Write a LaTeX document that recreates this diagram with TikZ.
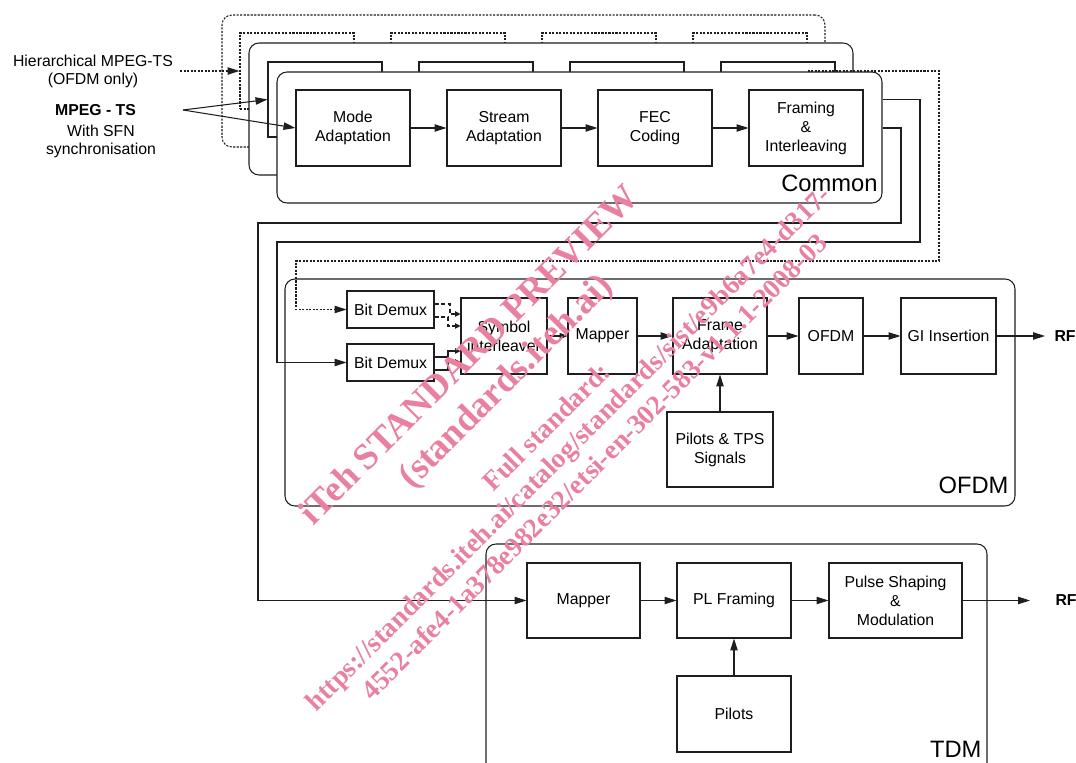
\documentclass[tikz,border=0pt]{standalone}
\usepackage{fontspec}
\setmainfont{Liberation Sans}
\newfontfamily\wmfont{Liberation Serif}
\usetikzlibrary{arrows.meta}
\definecolor{wmpink}{RGB}{234,128,160}
\definecolor{ln}{RGB}{30,30,30}
\newcommand\mkbox[7][blk]{\node[#1, minimum width={(#5-#3)*0.02cm}, minimum height={(#6-#4)*0.02cm}] (#2) at ({(#3+#5)/2},{(#4+#6)/2}) {#7};}
\begin{document}
\begin{tikzpicture}[x=0.02cm,y=-0.02cm, line width=0.6pt, draw=ln,
  blk/.style={draw=ln, fill=white, inner sep=0pt, align=center, font=\fontsize{9}{10.8}\selectfont},
  dblk/.style={blk, dash pattern=on 1.2pt off 0.8pt},
  frm/.style={draw=ln, fill=white, rounded corners=0.2cm, inner sep=0pt},
  dfrm/.style={frm, dash pattern=on 1.2pt off 0.8pt},
  arr/.style={-{Triangle[length=6.8pt,width=4.2pt]}},
  marr/.style={-{Triangle[length=4.5pt,width=3.5pt]}},
  sarr/.style={-{Triangle[length=3pt,width=3pt]}},
  dots/.style={dash pattern=on 1.2pt off 0.8pt},
  dsh/.style={dash pattern=on 2.3pt off 1.5pt},
  txt/.style={font=\fontsize{9}{10.3}\selectfont, align=center, inner sep=0pt},
  btxt/.style={font=\fontsize{9}{10.3}\selectfont\bfseries, inner sep=0pt},
  flabel/.style={font=\fontsize{13.5}{16}\selectfont, anchor=base east, inner sep=0pt},
  wm/.style={text=wmpink, rotate=45, anchor=base west, inner sep=0pt},
  wmbig/.style={wm, font=\fontsize{20.9}{24}\selectfont\wmfont\bfseries},
  wmsmall/.style={wm, font=\fontsize{15.6}{18}\selectfont\wmfont\bfseries}
]
\useasboundingbox (0,0) rectangle (1076,763);

% ---- back layer (hierarchical, dotted)
\mkbox[dfrm]{f1}{222}{15}{825}{147}{}
\mkbox[dblk]{a1}{240}{33}{354}{109}{}
\mkbox[dblk]{a2}{391}{33}{505}{109}{}
\mkbox[dblk]{a3}{542}{33}{656}{109}{}
\mkbox[dblk]{a4}{693}{33}{807}{109}{}

% ---- middle layer
\mkbox[frm]{f2}{249}{43}{853}{175}{}
\mkbox{b1}{268}{62}{382}{137}{}
\mkbox{b2}{419}{62}{533}{137}{}
\mkbox{b3}{570}{62}{684}{137}{}
\mkbox{b4}{721}{62}{835}{137}{}

% ---- front layer: Common
\mkbox[frm]{common}{277}{72}{882}{203}{}
\mkbox{ma}{296}{90}{410}{166}{Mode\\Adaptation}
\mkbox{sa}{447}{90}{561}{166}{Stream\\Adaptation}
\mkbox{fec}{598}{90}{712}{166}{FEC\\Coding}
\mkbox{fr}{749}{90}{863}{166}{Framing\\\&\\Interleaving}
\node[flabel] (lcommon) at (878,192) {Common};
\draw[arr] (ma) -- (sa);
\draw[arr] (sa) -- (fec);
\draw[arr] (fec) -- (fr);

% ---- inputs
\node[txt] (hier) at (93,71) {Hierarchical MPEG-TS\\(OFDM only)};
\node[btxt] (mpeg) at (95.5,110) {MPEG - TS};
\node[txt] (sfn) at (101,141) {With SFN\\synchronisation};
\coordinate (hin) at (180,71);
\coordinate (min) at (183,110);
\draw[dots,arr] (hin) -- (a1.west);
\draw[arr] (min) -- (b1.west);
\draw[arr] (min) -- (ma.west);

% ---- OFDM
\mkbox[frm]{ofdmf}{285}{279}{1015}{506}{}
\node[flabel] (lofdm) at (1009,494) {OFDM};
\mkbox{bd1}{347}{291}{434}{328}{Bit Demux}
\mkbox{bd2}{347}{344}{434}{381}{Bit Demux}
\mkbox{si}{461}{298}{547}{374}{Symbol\\interleaver}
\mkbox{mp1}{568}{298}{637}{374}{Mapper}
\mkbox{fa}{673}{298}{767}{374}{Frame\\Adaptation}
\mkbox{ofdm}{799}{298}{863}{374}{OFDM}
\mkbox{gi}{901}{298}{996}{374}{GI Insertion}
\mkbox{pt}{667}{412}{773}{487}{Pilots \& TPS\\Signals}
\node[btxt, anchor=west, inner xsep=0.18cm] (rf1) at (1045,336) {RF};

\draw[dsh,sarr] (bd1.east |- 0,304) -| (450,314) -- (si.west |- 0,314);
\draw[dsh,sarr] (bd1.east |- 0,317) -| (448,326) -- (si.west |- 0,326);
\draw[sarr] (bd2.east |- 0,357) -| (448,351) -- (si.west |- 0,351);
\draw[sarr] (bd2.east |- 0,370) -| (448,362) -- (si.west |- 0,362);
\draw[marr] (si) -- (mp1);
\draw[arr] (mp1) -- (fa);
\draw[arr] (fa) -- (ofdm);
\draw[arr] (ofdm) -- (gi);
\draw[arr] (gi) -- (rf1);
\draw[arr] (pt) -- (fa);

% ---- TDM
\draw[rounded corners=0.2cm] (486,775) |- (987,544) -- (987,775);
\node[flabel] (ltdm) at (982,757) {TDM};
\mkbox{mp2}{527}{563}{640}{638}{Mapper}
\mkbox{plf}{677}{563}{791}{638}{PL Framing}
\mkbox{ps}{829}{563}{962}{638}{Pulse Shaping\\\&\\Modulation}
\mkbox{pil}{677}{676}{791}{752}{Pilots}
\node[btxt, anchor=west, inner xsep=0.5cm] (rf2) at (1030,600.5) {RF};
\draw[arr] (mp2) -- (plf);
\draw[arr] (plf) -- (ps);
\draw[arr] (ps) -- (rf2);
\draw[arr] (pil) -- (plf);

% ---- layer outputs
\coordinate (d1) at (939,261);
\coordinate (d2) at (296,261);
\draw[dots,arr] (a4.east) -| (d1) -- (d2) |- (bd1.west);
\coordinate (bc1) at (920,242);
\coordinate (bc2) at (277,242);
\draw[arr] (common.east |- b4.east) -| (bc1) -- (bc2) |- (bd2.west);
\coordinate (ac1) at (901,223);
\coordinate (ac2) at (258,223);
\draw[arr] (common.east |- fr.east) -| (ac1) -- (ac2) |- (mp2.west);

% ---- watermark
\node[wmbig] (w1) at (313,527) {iTeh STANDARD PREVIEW};
\node[wmbig] (w2) at (412,490) {(standards.iteh.ai)};
\node[wmsmall] (w3) at (493,493) {Full standard:};
\node[wmsmall] (w4) at (316,713) {https://standards.iteh.ai/catalog/standards/sist/e9b6a7e4-d317-};
\node[wmsmall] (w5) at (372,702) {4552-afe4-1a378e982e32/etsi-en-302-583-v1.1.1-2008-03};
\end{tikzpicture}
\end{document}
